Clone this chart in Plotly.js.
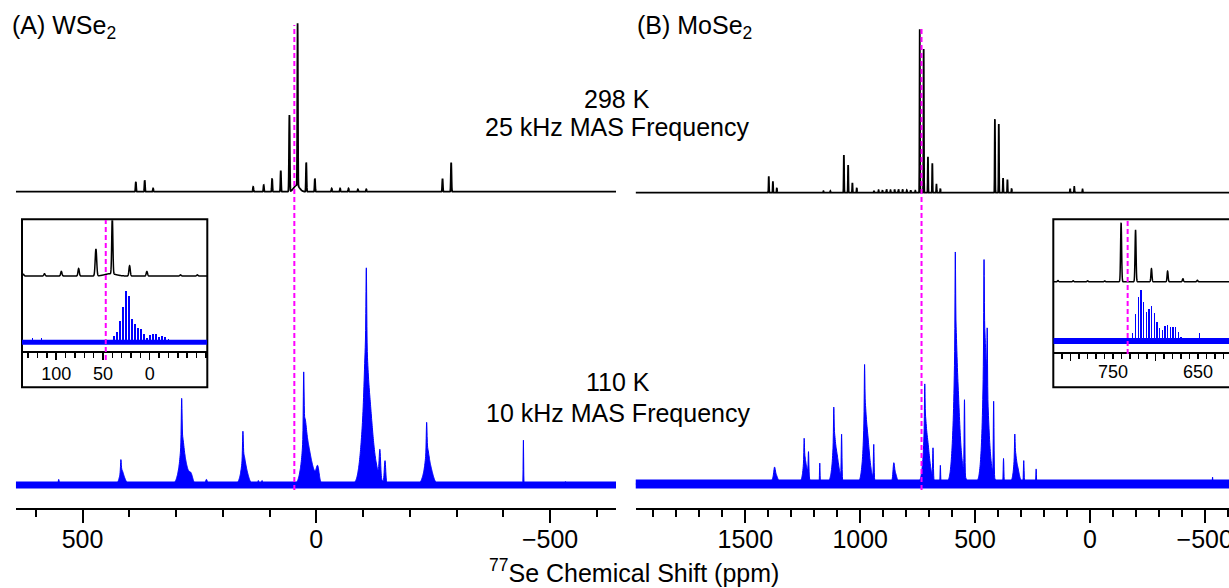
<!DOCTYPE html>
<html>
<head>
<meta charset="utf-8">
<script src="https://cdn.plot.ly/plotly-3.0.1.min.js"></script>
<style>html,body{margin:0;padding:0;background:#fff;}#chart{width:1229px;height:588px;}</style>
</head>
<body>
<div id="chart"></div>
<script>
// ---------------- DATA (ppm, relative intensity, line width in ppm) ----------------
// (A) WSe2, 298 K, 25 kHz MAS
const topA_ppm = [40, 57.5, 21.5, 76, 94.5, 112.5, 3, 135, 386, 367, 349, -33, -51, -69, -89, -107, -270, -288.5, 42];
const topA_int = [1.0, 0.47, 0.18, 0.13, 0.08, 0.04, 0.08, 0.03, 0.06, 0.07, 0.02, 0.02, 0.02, 0.02, 0.015, 0.015, 0.08, 0.18, 0.04];
const topA_lw  = [0.6, 0.8, 0.7, 0.7, 0.7, 0.7, 0.7, 0.7, 0.7, 0.7, 0.7, 0.7, 0.7, 0.7, 0.7, 0.7, 0.7, 0.7, 6];

// (A) WSe2, 110 K, 10 kHz MAS
const botA_ppm = [-107, -106, -108, -116, -136, -147,
                  27, 25, 23, 10, -3,
                  288, 287, 285, 268, 235,
                  157, 156, 154,
                  418, 417, 415,
                  -236, -237, -239,
                  -443, 551, 124, 116, -533];
const botA_int = [0.32, 0.2, 0.38, 0.1, 0.12, 0.1,
                  0.25, 0.1, 0.18, 0.06, 0.06,
                  0.18, 0.08, 0.14, 0.04, 0.025,
                  0.11, 0.05, 0.09,
                  0.05, 0.025, 0.045,
                  0.12, 0.06, 0.11,
                  0.2, 0.025, 0.02, 0.02, 0.015];
const botA_lw  = [0.8, 3, 9, 14, 1.5, 1.5,
                  0.8, 3, 8, 10, 3,
                  0.8, 3, 8, 4, 2,
                  0.8, 3, 7,
                  0.8, 3, 6,
                  0.8, 3, 8,
                  0.5, 1, 1, 1, 1];

// (B) MoSe2, 298 K, 25 kHz MAS
const topB_ppm = [740.7, 723.7, 705, 686, 668, 651, 413.6, 396.6, 378, 359, 340.7, 1071, 1052.5, 1034, 1015,
                  1398, 1380, 1363, 86, 68, 32, 940, 920, 903, 885, 868, 850, 833, 815, 797, 780, 760, 1160, 1130];
const topB_int = [1.0, 0.88, 0.22, 0.18, 0.05, 0.025, 0.45, 0.42, 0.09, 0.08, 0.025, 0.23, 0.17, 0.06, 0.03,
                  0.1, 0.07, 0.03, 0.025, 0.035, 0.02, 0.012, 0.015, 0.015, 0.02, 0.015, 0.02, 0.02, 0.02, 0.015, 0.015, 0.012, 0.01, 0.01];

// (B) MoSe2, 110 K, 10 kHz MAS
const botB_ppm = [586, 585, 582, 575, 546,
                  461, 460, 455, 448, 447, 419,
                  719, 718, 713, 706, 683, 651,
                  981, 980, 975, 968, 941,
                  1115, 1114, 1109, 1102, 1081, 1176,
                  1244, 1243, 1238, 1225,
                  327, 326, 321, 288, 376, 234,
                  854, 849, 1373, 1370, -534];
const botB_int = [0.33, 0.2, 0.4, 0.12, 0.32,
                  0.33, 0.2, 0.42, 0.1, 0.25, 0.32,
                  0.15, 0.1, 0.17, 0.05, 0.13, 0.08,
                  0.18, 0.12, 0.2, 0.06, 0.15,
                  0.12, 0.08, 0.12, 0.04, 0.19, 0.09,
                  0.08, 0.05, 0.08, 0.1,
                  0.08, 0.06, 0.09, 0.1, 0.11, 0.065,
                  0.05, 0.05, 0.03, 0.045, 0.03];
const botB_lw  = [1.2, 4, 11, 20, 1.5,
                  1.2, 4, 11, 20, 1.2, 1.5,
                  1.2, 4, 11, 18, 1.5, 1.2,
                  1.2, 4, 11, 18, 1.5,
                  1.2, 4, 11, 18, 1.5, 1.2,
                  1.2, 4, 11, 1.5,
                  1.2, 4, 11, 1.5, 1.5, 1.2,
                  3, 8, 3, 10, 1];

// Insets: expanded centre bands at 110 K (spinning-sideband fine structure)
const insetA_ppm = [38.2, 35, 31.8, 28.6, 25.3, 22.1, 18.9, 15.7, 12.5, 9.3, 6.1, 2.9, -0.3, -3.5, -6.7, -9.9, -13.2, -16.4, -19.9, 125.6, 116];
const insetA_int = [0.13, 0.21, 0.41, 0.69, 1.0, 0.9, 0.45, 0.35, 0.29, 0.27, 0.16, 0.08, 0.14, 0.16, 0.16, 0.1, 0.12, 0.1, 0.06, 0.09, 0.08];
const insetB_ppm = [727, 723.5, 720.5, 717.3, 714.1, 711, 707.9, 704.7, 701.6, 698.5, 695.3, 692.2, 689.1, 685.9, 682.8, 679.6, 676.5, 673.4, 670.2, 648.7];
const insetB_int = [0.16, 0.52, 0.86, 1.0, 0.76, 0.57, 0.62, 0.69, 0.54, 0.38, 0.25, 0.22, 0.29, 0.31, 0.28, 0.28, 0.28, 0.18, 0.08, 0.15];

// Reference shifts (dashed lines)
const refA_ppm = 47;
const refB_ppm = 733;

// Labels
const panelLabels = ['(A) WSe<sub>2</sub>', '(B) MoSe<sub>2</sub>'];
const condTop = ['298 K', '25 kHz MAS Frequency'];
const condBot = ['110 K', '10 kHz MAS Frequency'];
const axisTitle = '<sup>77</sup>Se Chemical Shift (ppm)';
const insetBLabels = [750, 650];

// ---------------- rendering helpers ----------------
const W = 1229, H = 588;
const FONT = 'Liberation Sans, Arial, Helvetica, sans-serif';
const FS = 25;
const BLUE = '#0000ff';
const MAG = '#ff00ff';

function spectrum(pos, inten, lw, lo, hi, step, defaultW) {
  const xs = [];
  for (let x = lo; x <= hi; x += step) xs.push(x);
  pos.forEach(p => { if (p > lo && p < hi) xs.push(p); });
  xs.sort((a, b) => a - b);
  const ys = xs.map(x => {
    let s = 0;
    for (let i = 0; i < pos.length; i++) {
      const w = lw ? lw[i] : defaultW;
      const d = (x - pos[i]) / w;
      if (d > -7 && d < 7) s += inten[i] * Math.exp(-0.5 * d * d);
    }
    return s;
  });
  return {x: xs, y: ys};
}

// x calibrations: pixel of 0 ppm, px per ppm, pixel extents, pixel of axis line
const calA  = {zero: 316.3,  k: 0.4675, px0: 15.8,   px1: 616,  line: 509};
const calB  = {zero: 1089.9, k: 0.2297, px0: 635.5,  px1: 1229, line: 509};
const calIA = {zero: 149.7,  k: 0.935,  px0: 22,     px1: 207.3, line: 352};
const calIB = {zero: 1750.7, k: 0.85,   px0: 1053.3, px1: 1229, line: 353.3};
function rng(c) { return [(c.zero - c.px0) / c.k, (c.zero - c.px1) / c.k]; }

function xAxis(c, extra) {
  return Object.assign({
    domain: [c.px0 / W, c.px1 / W], range: rng(c), autorange: false,
    anchor: 'free', position: 1 - c.line / H,
    showgrid: false, zeroline: false, showline: true, linecolor: 'black', linewidth: 2,
    ticks: 'outside', tickcolor: 'black', tickwidth: 2, fixedrange: true,
    ticklabeloverflow: 'allow',
    tickfont: {family: FONT, size: FS, color: 'black'}
  }, extra);
}
// y axis: baseline pixel, pixels per unit, range
function yAxis(base, unit, lo, hi, anchor) {
  return {domain: [1 - (base - lo * unit) / H, 1 - (base - hi * unit) / H], range: [lo, hi],
          visible: false, showgrid: false, zeroline: false, fixedrange: true, anchor: anchor};
}

const rA = rng(calA), rB = rng(calB), rIA = rng(calIA), rIB = rng(calIB);
const sTopA = spectrum(topA_ppm, topA_int, topA_lw, rA[1], rA[0], 0.4);
const sBotA = spectrum(botA_ppm, botA_int, botA_lw, rA[1], rA[0], 0.4);
const sTopB = spectrum(topB_ppm, topB_int, null, rB[1], rB[0], 0.8, 0.9);
const sBotB = spectrum(botB_ppm, botB_int, botB_lw, rB[1], rB[0], 0.8);
const sInsA = spectrum(topA_ppm, topA_int, topA_lw, rIA[1], rIA[0], 0.2);
const sInsB = spectrum(topB_ppm, topB_int, null, rIB[1], rIB[0], 0.2, 0.6);

const traces = [
  {x: sTopA.x, y: sTopA.y, xaxis: 'x', yaxis: 'y', type: 'scatter', mode: 'lines', line: {color: 'black', width: 1.8, simplify: false}},
  {x: sBotA.x, y: sBotA.y, xaxis: 'x', yaxis: 'y2', type: 'scatter', mode: 'lines', fill: 'tozeroy', fillcolor: BLUE, line: {color: BLUE, width: 1, simplify: false}},
  {x: sTopB.x, y: sTopB.y, xaxis: 'x2', yaxis: 'y3', type: 'scatter', mode: 'lines', line: {color: 'black', width: 1.8, simplify: false}},
  {x: sBotB.x, y: sBotB.y, xaxis: 'x2', yaxis: 'y4', type: 'scatter', mode: 'lines', fill: 'tozeroy', fillcolor: BLUE, line: {color: BLUE, width: 1, simplify: false}},
  {x: sInsA.x, y: sInsA.y, xaxis: 'x3', yaxis: 'y5', type: 'scatter', mode: 'lines', line: {color: 'black', width: 1.5, simplify: false}},
  {x: insetA_ppm, y: insetA_int, xaxis: 'x3', yaxis: 'y6', type: 'bar', width: 1.5, marker: {color: BLUE, line: {width: 0}}},
  {x: sInsB.x, y: sInsB.y, xaxis: 'x4', yaxis: 'y7', type: 'scatter', mode: 'lines', line: {color: 'black', width: 1.5, simplify: false}},
  {x: insetB_ppm, y: insetB_int, xaxis: 'x4', yaxis: 'y8', type: 'bar', width: 1.5, marker: {color: BLUE, line: {width: 0}}}
];

function py(p) { return 1 - p / H; }
function px(p) { return p / W; }

const shapes = [
  // inset frames
  {type: 'rect', xref: 'paper', yref: 'paper', x0: px(22), x1: px(207.3), y0: py(387.3), y1: py(219.3), line: {color: 'black', width: 2}, fillcolor: 'white', layer: 'below'},
  {type: 'rect', xref: 'paper', yref: 'paper', x0: px(1053.3), x1: 1.02, y0: py(387.3), y1: py(219.3), line: {color: 'black', width: 2}, fillcolor: 'white', layer: 'below'},
  // baseline noise bands of the 110 K spectra
  {type: 'line', xref: 'x', yref: 'y2', x0: rA[0], x1: rA[1], y0: 0, y1: 0, line: {color: BLUE, width: 7}, layer: 'below'},
  {type: 'line', xref: 'x2', yref: 'y4', x0: rB[0], x1: rB[1], y0: 0, y1: 0, line: {color: BLUE, width: 9}, layer: 'below'},
  {type: 'line', xref: 'x3', yref: 'y6', x0: rIA[0], x1: rIA[1], y0: 0, y1: 0, line: {color: BLUE, width: 5}, layer: 'below'},
  {type: 'line', xref: 'x4', yref: 'y8', x0: rIB[0], x1: rIB[1], y0: 0, y1: 0, line: {color: BLUE, width: 6}, layer: 'below'},
  // reference dashed lines
  {type: 'line', xref: 'x', yref: 'paper', x0: refA_ppm, x1: refA_ppm, y0: py(490), y1: py(25), line: {color: MAG, width: 2, dash: '5px,3px'}},
  {type: 'line', xref: 'x2', yref: 'paper', x0: refB_ppm, x1: refB_ppm, y0: py(490), y1: py(26), line: {color: MAG, width: 2, dash: '5px,3px'}},
  {type: 'line', xref: 'x3', yref: 'paper', x0: refA_ppm, x1: refA_ppm, y0: py(360), y1: py(220), line: {color: MAG, width: 2, dash: '5px,3px'}},
  {type: 'line', xref: 'x4', yref: 'paper', x0: refB_ppm, x1: refB_ppm, y0: py(354), y1: py(220), line: {color: MAG, width: 2, dash: '5px,3px'}}
];

const txt = (text, x, y, xanchor, size) => ({text: text, x: x, y: y, xref: 'paper', yref: 'paper', xanchor: xanchor, yanchor: 'middle', showarrow: false, font: {family: FONT, size: size || FS, color: 'black'}});
const annotations = [
  txt(panelLabels[0], px(10), py(27), 'left'),
  txt(panelLabels[1], px(635), py(27), 'left'),
  txt(condTop[0], px(617), py(99), 'center'),
  txt(condTop[1], px(617), py(127), 'center'),
  txt(condBot[0], px(618), py(382), 'center'),
  txt(condBot[1], px(618), py(413), 'center'),
  txt(axisTitle, px(634), py(571), 'center')
];
insetBLabels.forEach(v => annotations.push({text: String(v), x: v, xref: 'x4', y: py(372), yref: 'paper', xanchor: 'center', yanchor: 'middle', showarrow: false, font: {family: FONT, size: 18, color: 'black'}}));

const layout = {
  width: W, height: H, margin: {l: 0, r: 0, t: 0, b: 0, pad: 0},
  paper_bgcolor: 'white', plot_bgcolor: 'rgba(0,0,0,0)', showlegend: false,
  font: {family: FONT, size: FS, color: 'black'},
  xaxis: xAxis(calA, {dtick: 500, tick0: 0, ticklen: 13, ticklabelstandoff: -5, minor: {dtick: 100, ticks: 'outside', ticklen: 7, tickwidth: 2, tickcolor: 'black'}}),
  xaxis2: xAxis(calB, {dtick: 500, tick0: 0, ticklen: 13, ticklabelstandoff: -5, minor: {dtick: 100, ticks: 'outside', ticklen: 7, tickwidth: 2, tickcolor: 'black'}}),
  xaxis3: xAxis(calIA, {tickmode: 'array', tickvals: [100, 50, 0], ticklen: 7, tickwidth: 1.5, ticklabelstandoff: -2, tickfont: {family: FONT, size: 18, color: 'black'},
                        minor: {dtick: 10, ticks: 'outside', ticklen: 4.5, tickwidth: 1.5, tickcolor: 'black'}}),
  xaxis4: xAxis(calIB, {tickmode: 'array', tickvals: [800, 700, 600], showticklabels: false, ticklen: 7, tickwidth: 1.5,
                        minor: {dtick: 10, ticks: 'outside', ticklen: 4.5, tickwidth: 1.5, tickcolor: 'black'}}),
  yaxis:  yAxis(191.7, 162.4, -0.06, 1.05, 'x'),
  yaxis2: yAxis(485, 224.3, -0.06, 1.05, 'x'),
  yaxis3: yAxis(192.7, 163.4, -0.06, 1.05, 'x2'),
  yaxis4: yAxis(484, 231.7, -0.06, 1.05, 'x2'),
  yaxis5: yAxis(276, 57.4, -0.1, (276 - 220.3) / 57.4, 'x3'),
  yaxis6: yAxis(342.3, 51, -0.15, 1.1, 'x3'),
  yaxis7: yAxis(281.7, 59, -0.1, (281.7 - 220.3) / 59, 'x4'),
  yaxis8: yAxis(341, 51, -0.15, 1.1, 'x4'),
  bargap: 0,
  shapes: shapes, annotations: annotations
};

Plotly.newPlot('chart', traces, layout, {displayModeBar: false, staticPlot: true});
</script>
</body>
</html>
